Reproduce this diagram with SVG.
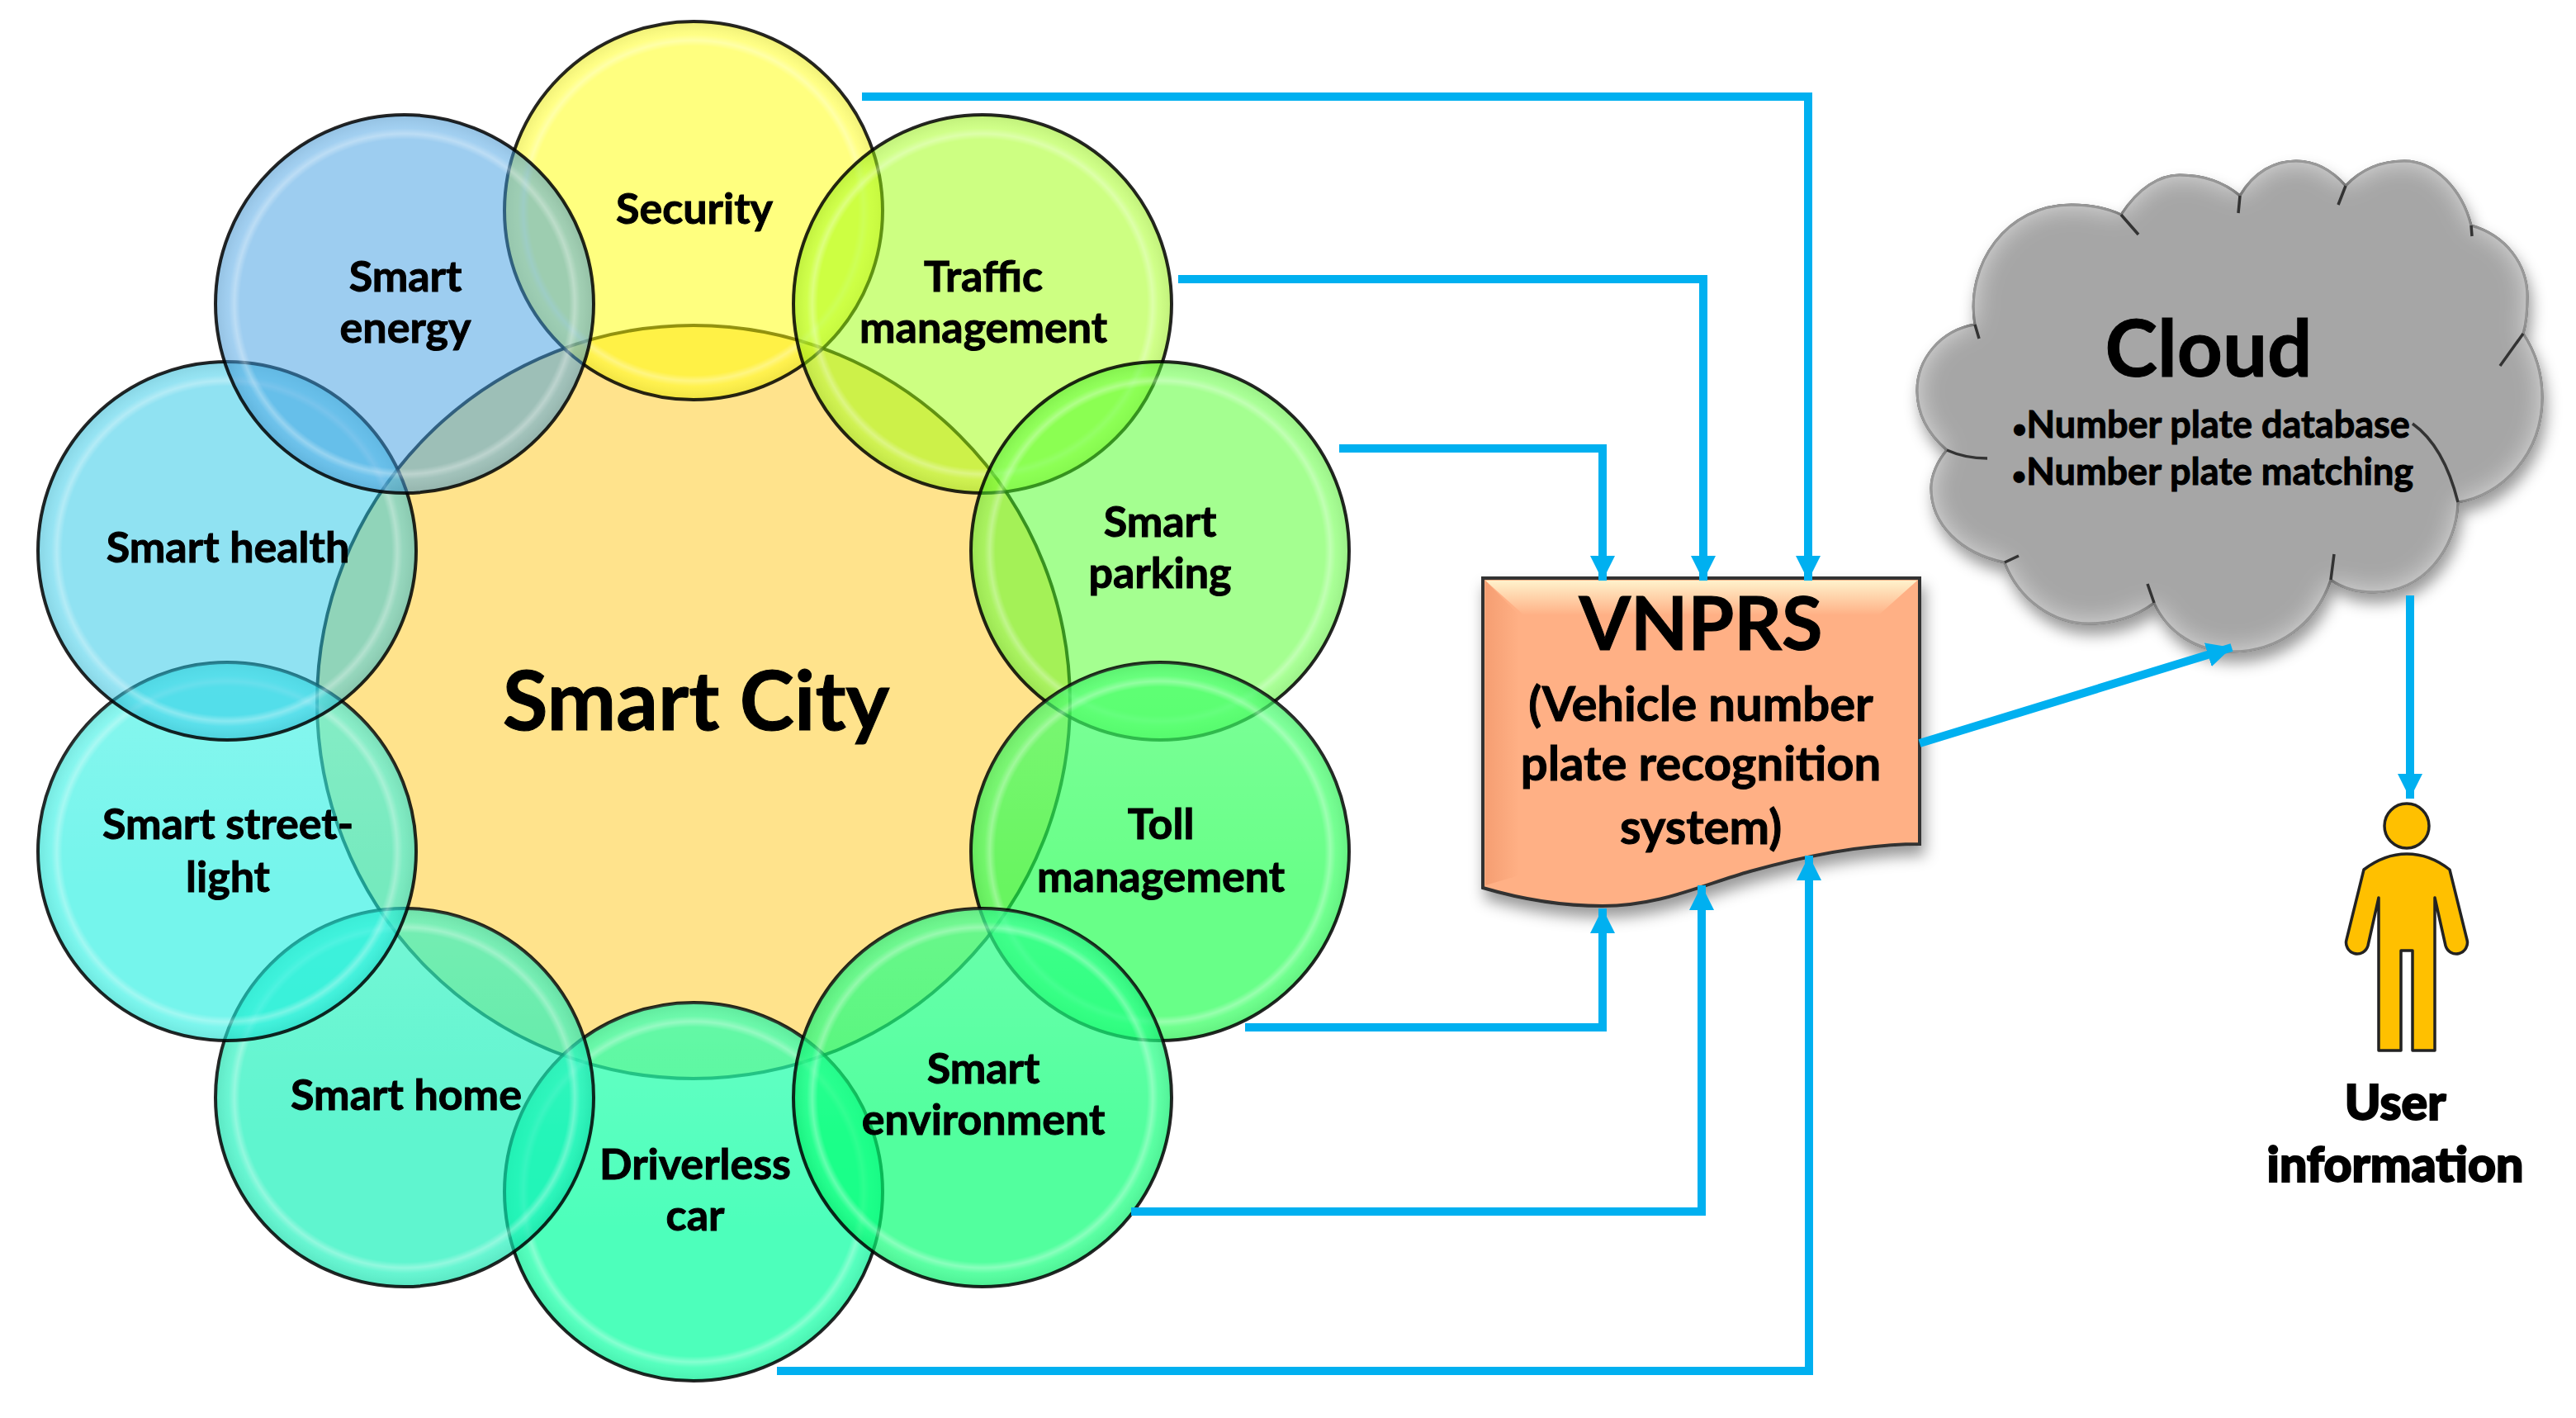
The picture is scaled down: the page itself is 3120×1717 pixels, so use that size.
<svg xmlns="http://www.w3.org/2000/svg" width="3120" height="1717" viewBox="0 0 3120 1717">
<style>
text{font-family:Lato,"Liberation Sans",sans-serif;font-weight:700;fill:#000;text-anchor:middle;stroke:#000;stroke-width:1}
.lbl{font-size:52px}
.disc{stroke:#000;stroke-width:4;stroke-opacity:.85}
.rim{fill:url(#rim)}
.gloss{fill:url(#gloss)}
.conn{fill:none;stroke:#00B0F0;stroke-width:10}
.crease{fill:none;stroke:#333;stroke-width:3.5}
.heavy{font-weight:900;font-size:59px;stroke-width:2}
</style>
<defs>
<radialGradient id="rim">
<stop offset="0" stop-color="#fff" stop-opacity="0"/>
<stop offset=".87" stop-color="#fff" stop-opacity="0"/>
<stop offset=".9" stop-color="#fff" stop-opacity=".32"/>
<stop offset=".93" stop-color="#fff" stop-opacity=".05"/>
<stop offset="1" stop-color="#000" stop-opacity=".06"/>
</radialGradient>
<linearGradient id="gloss" x1="0" y1="0" x2="0" y2="1">
<stop offset="0" stop-color="#fff" stop-opacity=".14"/>
<stop offset=".6" stop-color="#fff" stop-opacity="0"/>
</linearGradient>
<marker id="ah" viewBox="0 0 30 30" markerUnits="userSpaceOnUse" markerWidth="30" markerHeight="30" refX="30" refY="15" orient="auto">
<path d="M0 0L30 15L0 30z" fill="#00B0F0"/>
</marker>
<linearGradient id="bevelT" x1="0" y1="0" x2="0" y2="1">
<stop offset="0" stop-color="#FFF2CC"/><stop offset="1" stop-color="#FFB085"/>
</linearGradient>
<linearGradient id="bevelL" x1="0" y1="0" x2="1" y2="0">
<stop offset="0" stop-color="#F59E72"/><stop offset="1" stop-color="#FFB085"/>
</linearGradient>
<filter id="shadow" x="-10%" y="-10%" width="125%" height="125%">
<feDropShadow dx="4" dy="12" stdDeviation="9" flood-color="#000" flood-opacity=".4"/>
</filter>
<filter id="cloudbevel" x="-10%" y="-10%" width="125%" height="125%">
<feGaussianBlur in="SourceAlpha" stdDeviation="16" result="b"/>
<feComposite in="SourceAlpha" in2="b" operator="out" result="edge"/>
<feFlood flood-color="#fff" flood-opacity=".55"/>
<feComposite in2="edge" operator="in" result="glow"/>
<feDropShadow in="SourceAlpha" dx="4" dy="12" stdDeviation="9" flood-color="#000" flood-opacity=".4" result="sh"/>
<feMerge><feMergeNode in="sh"/><feMergeNode in="SourceGraphic"/><feMergeNode in="glow"/></feMerge>
</filter>
</defs>
<rect width="3120" height="1717" fill="#fff"/>

<g id="smart-city">
<circle class="disc" cx="840" cy="850" r="456" fill="#FFC000" fill-opacity=".45"/>
<text x="843" y="884" font-size="100">Smart City</text>
</g>
<g id="driverless-car">
<circle class="disc" cx="840" cy="1443" r="229" fill="#02FF9E" fill-opacity=".7"/>
<circle class="gloss" cx="840" cy="1443" r="229"/>
<circle class="rim" cx="840" cy="1443" r="229"/>
<text class="lbl" x="842" y="1428">Driverless</text>
<text class="lbl" x="842" y="1490">car</text>
</g>
<g id="security">
<circle class="disc" cx="840" cy="255" r="229" fill="#FFFF00" fill-opacity=".5"/>
<circle class="rim" cx="840" cy="255" r="229"/>
<text class="lbl" x="841" y="271">Security</text>
</g>
<g id="traffic-management">
<circle class="disc" cx="1190" cy="368" r="229" fill="#9BFF05" fill-opacity=".5"/>
<circle class="rim" cx="1190" cy="368" r="229"/>
<text class="lbl" x="1191" y="353">Traffic</text>
<text class="lbl" x="1191" y="415">management</text>
</g>
<g id="smart-parking">
<circle class="disc" cx="1405" cy="667" r="229" fill="#49FF21" fill-opacity=".5"/>
<circle class="rim" cx="1405" cy="667" r="229"/>
<text class="lbl" x="1405" y="650">Smart</text>
<text class="lbl" x="1405" y="712">parking</text>
</g>
<g id="toll-management">
<circle class="disc" cx="1405" cy="1031" r="229" fill="#17FF48" fill-opacity=".65"/>
<circle class="gloss" cx="1405" cy="1031" r="229"/>
<circle class="rim" cx="1405" cy="1031" r="229"/>
<text class="lbl" x="1406" y="1016">Toll</text>
<text class="lbl" x="1406" y="1080">management</text>
</g>
<g id="smart-environment">
<circle class="disc" cx="1190" cy="1329" r="229" fill="#00FF70" fill-opacity=".68"/>
<circle class="gloss" cx="1190" cy="1329" r="229"/>
<circle class="rim" cx="1190" cy="1329" r="229"/>
<text class="lbl" x="1191" y="1312">Smart</text>
<text class="lbl" x="1191" y="1374">environment</text>
</g>
<g id="smart-home">
<circle class="disc" cx="490" cy="1329" r="229" fill="#09F0B5" fill-opacity=".65"/>
<circle class="gloss" cx="490" cy="1329" r="229"/>
<circle class="rim" cx="490" cy="1329" r="229"/>
<text class="lbl" x="492" y="1344">Smart home</text>
</g>
<g id="smart-street-light">
<circle class="disc" cx="275" cy="1031" r="229" fill="#19EEDF" fill-opacity=".6"/>
<circle class="gloss" cx="275" cy="1031" r="229"/>
<circle class="rim" cx="275" cy="1031" r="229"/>
<text class="lbl" x="276" y="1016">Smart street-</text>
<text class="lbl" x="276" y="1080">light</text>
</g>
<g id="smart-health">
<circle class="disc" cx="275" cy="667" r="229" fill="#21C5E5" fill-opacity=".5"/>
<circle class="rim" cx="275" cy="667" r="229"/>
<text class="lbl" x="276" y="681">Smart health</text>
</g>
<g id="smart-energy">
<circle class="disc" cx="490" cy="368" r="229" fill="#3B9BE1" fill-opacity=".5"/>
<circle class="rim" cx="490" cy="368" r="229"/>
<text class="lbl" x="491" y="353">Smart</text>
<text class="lbl" x="491" y="415">energy</text>
</g>

<g id="vnprs">
<path id="vnprs-shape" d="M1796 700H2325V1022C2260 1022 2191 1035 2120 1055C2060 1072 2010 1097 1941 1097C1890 1097 1840 1088 1796 1075Z" fill="#FFB085" stroke="#333" stroke-width="4" filter="url(#shadow)"/>
<path d="M1799 703H2322L2275 745H1846Z" fill="url(#bevelT)"/>
<path d="M1799 703L1840 745V1060L1799 1072Z" fill="url(#bevelL)"/>
<text x="2060" y="787" font-size="90">VNPRS</text>
<text x="2060" y="873" font-size="58">(Vehicle number</text>
<text x="2060" y="945" font-size="58">plate recognition</text>
<text x="2060" y="1022" font-size="58">system)</text>
</g>

<g id="cloud">
<path d="M2392 393C2380 320 2430 248 2509 248C2530 248 2552 252 2569 260C2590 228 2615 212 2640 212C2670 212 2695 222 2713 237C2730 208 2755 195 2781 195C2805 195 2825 207 2841 225C2860 205 2885 195 2912 195C2950 195 2982 230 2993 273C3035 285 3061 320 3061 359C3061 375 3060 390 3056 404C3070 425 3079 450 3079 481C3079 550 3030 600 2977 608C2975 665 2935 717 2875 717C2855 717 2837 712 2823 702C2805 755 2760 789 2703 789C2660 789 2625 765 2609 730C2585 748 2560 755 2530 755C2485 755 2445 725 2428 681C2375 670 2339 635 2339 591C2339 575 2347 558 2358 545C2335 525 2322 500 2322 473C2322 435 2350 400 2392 393Z" fill="#A6A6A6" stroke="#444" stroke-width="3" filter="url(#cloudbevel)"/>
<path class="crease" d="M2569 260L2590 284M2713 237L2711 258M2841 225L2832 248M2993 273L2994 286M3056 404L3028 443M2977 608Q2960 540 2922 513M2823 702L2827 671M2609 730L2601 707M2428 681L2445 673M2358 545Q2380 555 2407 555M2392 393L2397 410"/>
<text x="2675" y="456" font-size="96">Cloud</text>
<text x="2678" y="530" font-size="45"><tspan font-size="30">•</tspan>Number plate database</text>
<text x="2680" y="587" font-size="45"><tspan font-size="30">•</tspan>Number plate matching</text>
</g>

<g id="user">
<circle cx="2915" cy="1000" r="27" fill="#FFC000" stroke="#222" stroke-width="3.5"/>
<path d="M2863 1053Q2888 1034 2915 1034Q2943 1034 2967 1053L2988 1138A13 13 0 0 1 2962 1145L2949 1087V1272H2922V1151H2908V1272H2881V1087L2868 1145A13 13 0 0 1 2842 1138Z" fill="#FFC000" stroke="#222" stroke-width="3.5" stroke-linejoin="round"/>
<text class="heavy" x="2901" y="1356">User</text>
<text class="heavy" x="2901" y="1431">information</text>
</g>

<g id="connectors">
<path class="conn" d="M1044 117H2190V703" marker-end="url(#ah)"/>
<path class="conn" d="M1427 338H2063V703" marker-end="url(#ah)"/>
<path class="conn" d="M1622 543H1941V703" marker-end="url(#ah)"/>
<path class="conn" d="M1508 1244H1941V1100" marker-end="url(#ah)"/>
<path class="conn" d="M1370 1467H2061V1072" marker-end="url(#ah)"/>
<path class="conn" d="M941 1660H2191V1036" marker-end="url(#ah)"/>
<path class="conn" d="M2325 900L2703 784" marker-end="url(#ah)"/>
<path class="conn" d="M2919 721V967" marker-end="url(#ah)"/>
</g>
</svg>
